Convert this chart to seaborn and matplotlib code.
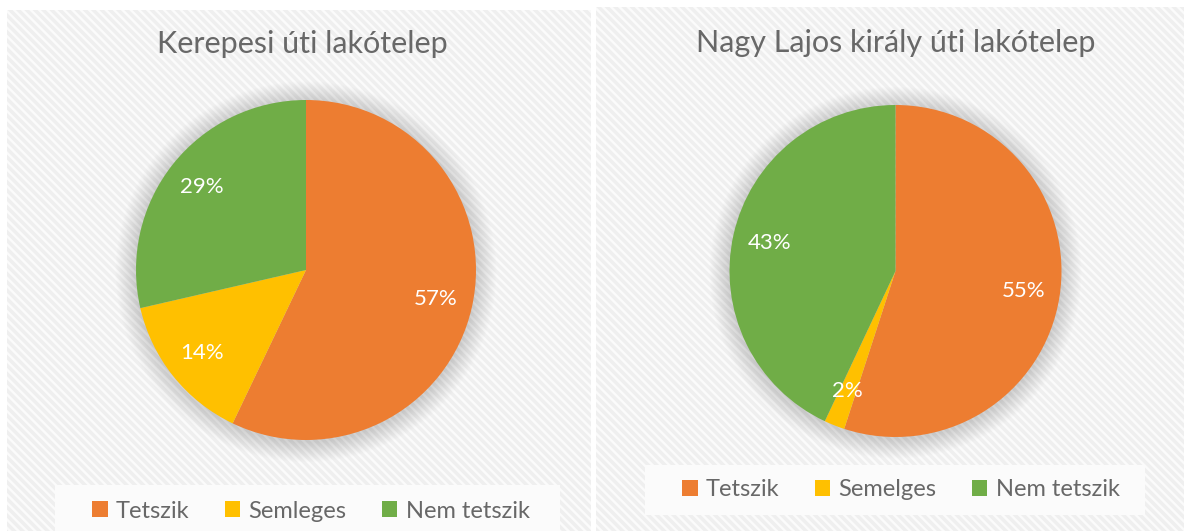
import matplotlib.pyplot as plt
import matplotlib.patches as mpatches
import seaborn as sns

sns.set_theme(style="white")
plt.rcParams['font.family'] = ['Lato', 'DejaVu Sans']
plt.rcParams['hatch.linewidth'] = 2.5

titles = ['Kerepesi úti lakótelep', 'Nagy Lajos király úti lakótelep']
labels_left = ['Tetszik', 'Semleges', 'Nem tetszik']
labels_right = ['Tetszik', 'Semelges', 'Nem tetszik']
values_left = [57.1, 14.3, 28.6]
values_right = [55, 2, 43]
colors = ['#ED7D31', '#FFC000', '#70AD47']
text_color = '#686868'

W, H = 1184, 531
fig = plt.figure(figsize=(W / 100, H / 100), dpi=100)
fig.patch.set_facecolor('white')


def px_rect(x0, y0, x1, y1):
    # pixel box (top-left origin) -> figure fraction rect
    return [x0 / W, 1 - y1 / H, (x1 - x0) / W, (y1 - y0) / H]


# hatched panel backgrounds, each in its own background axes
for (x0, y0, x1, y1) in [(7, 10, 591, 531), (596, 7, 1184, 531)]:
    bg = fig.add_axes(px_rect(x0, y0, x1, y1), zorder=-2)
    bg.set_axis_off()
    bg.add_patch(mpatches.Rectangle((0, 0), 1, 1, transform=bg.transAxes,
                                    facecolor='#fbfbfb', edgecolor='#efefef',
                                    hatch='\\' * 4, linewidth=0))

# legend boxes
for (x0, y0, x1, y1) in [(55, 485, 560, 540), (645, 465, 1145, 515)]:
    lb = fig.add_axes(px_rect(x0, y0, x1, y1), zorder=-1)
    lb.set_axis_off()
    lb.add_patch(mpatches.Rectangle((0, 0), 1, 1, transform=lb.transAxes,
                                    facecolor='#fbfbfb', edgecolor='none'))

panels = [
    dict(cx=306, cy=270, r=170, vals=values_left, labs=labels_left, title=titles[0],
         tx=302, ty=44, lx=311, ly=511),
    dict(cx=895.5, cy=271, r=166, vals=values_right, labs=labels_right, title=titles[1],
         tx=896, ty=43, lx=901, ly=490),
]

for p in panels:
    ax = fig.add_axes(px_rect(p['cx'] - p['r'] * 1.15, p['cy'] - p['r'] * 1.15,
                              p['cx'] + p['r'] * 1.15, p['cy'] + p['r'] * 1.15), zorder=1)
    ax.set_axis_off()
    # soft shadow around the pie
    n = 20
    for i in range(n):
        ax.add_patch(mpatches.Circle((0, -0.01), 1.0 + 0.006 * (n - i), facecolor='black',
                                     alpha=0.006, edgecolor='none', zorder=0))
    wedges, _, autotexts = ax.pie(p['vals'], colors=colors, startangle=90, counterclock=False,
                                  autopct=lambda v: f'{v:.0f}%', pctdistance=0.78,
                                  wedgeprops=dict(linewidth=0),
                                  textprops=dict(color='white', fontsize=16))
    ax.set_xlim(-1.15, 1.15)
    ax.set_ylim(-1.15, 1.15)
    ax.set_aspect('equal')
    fig.text(p['tx'] / W, 1 - p['ty'] / H, p['title'], ha='center', va='center',
             fontsize=22, color=text_color)
    fig.legend(wedges, p['labs'], loc='center', bbox_to_anchor=(p['lx'] / W, 1 - p['ly'] / H),
               ncol=3, frameon=False, handlelength=0.65, handleheight=0.65,
               handletextpad=0.35, columnspacing=1.5, labelcolor=text_color,
               prop=dict(size=17))

fig.savefig('out.png', dpi=100)
